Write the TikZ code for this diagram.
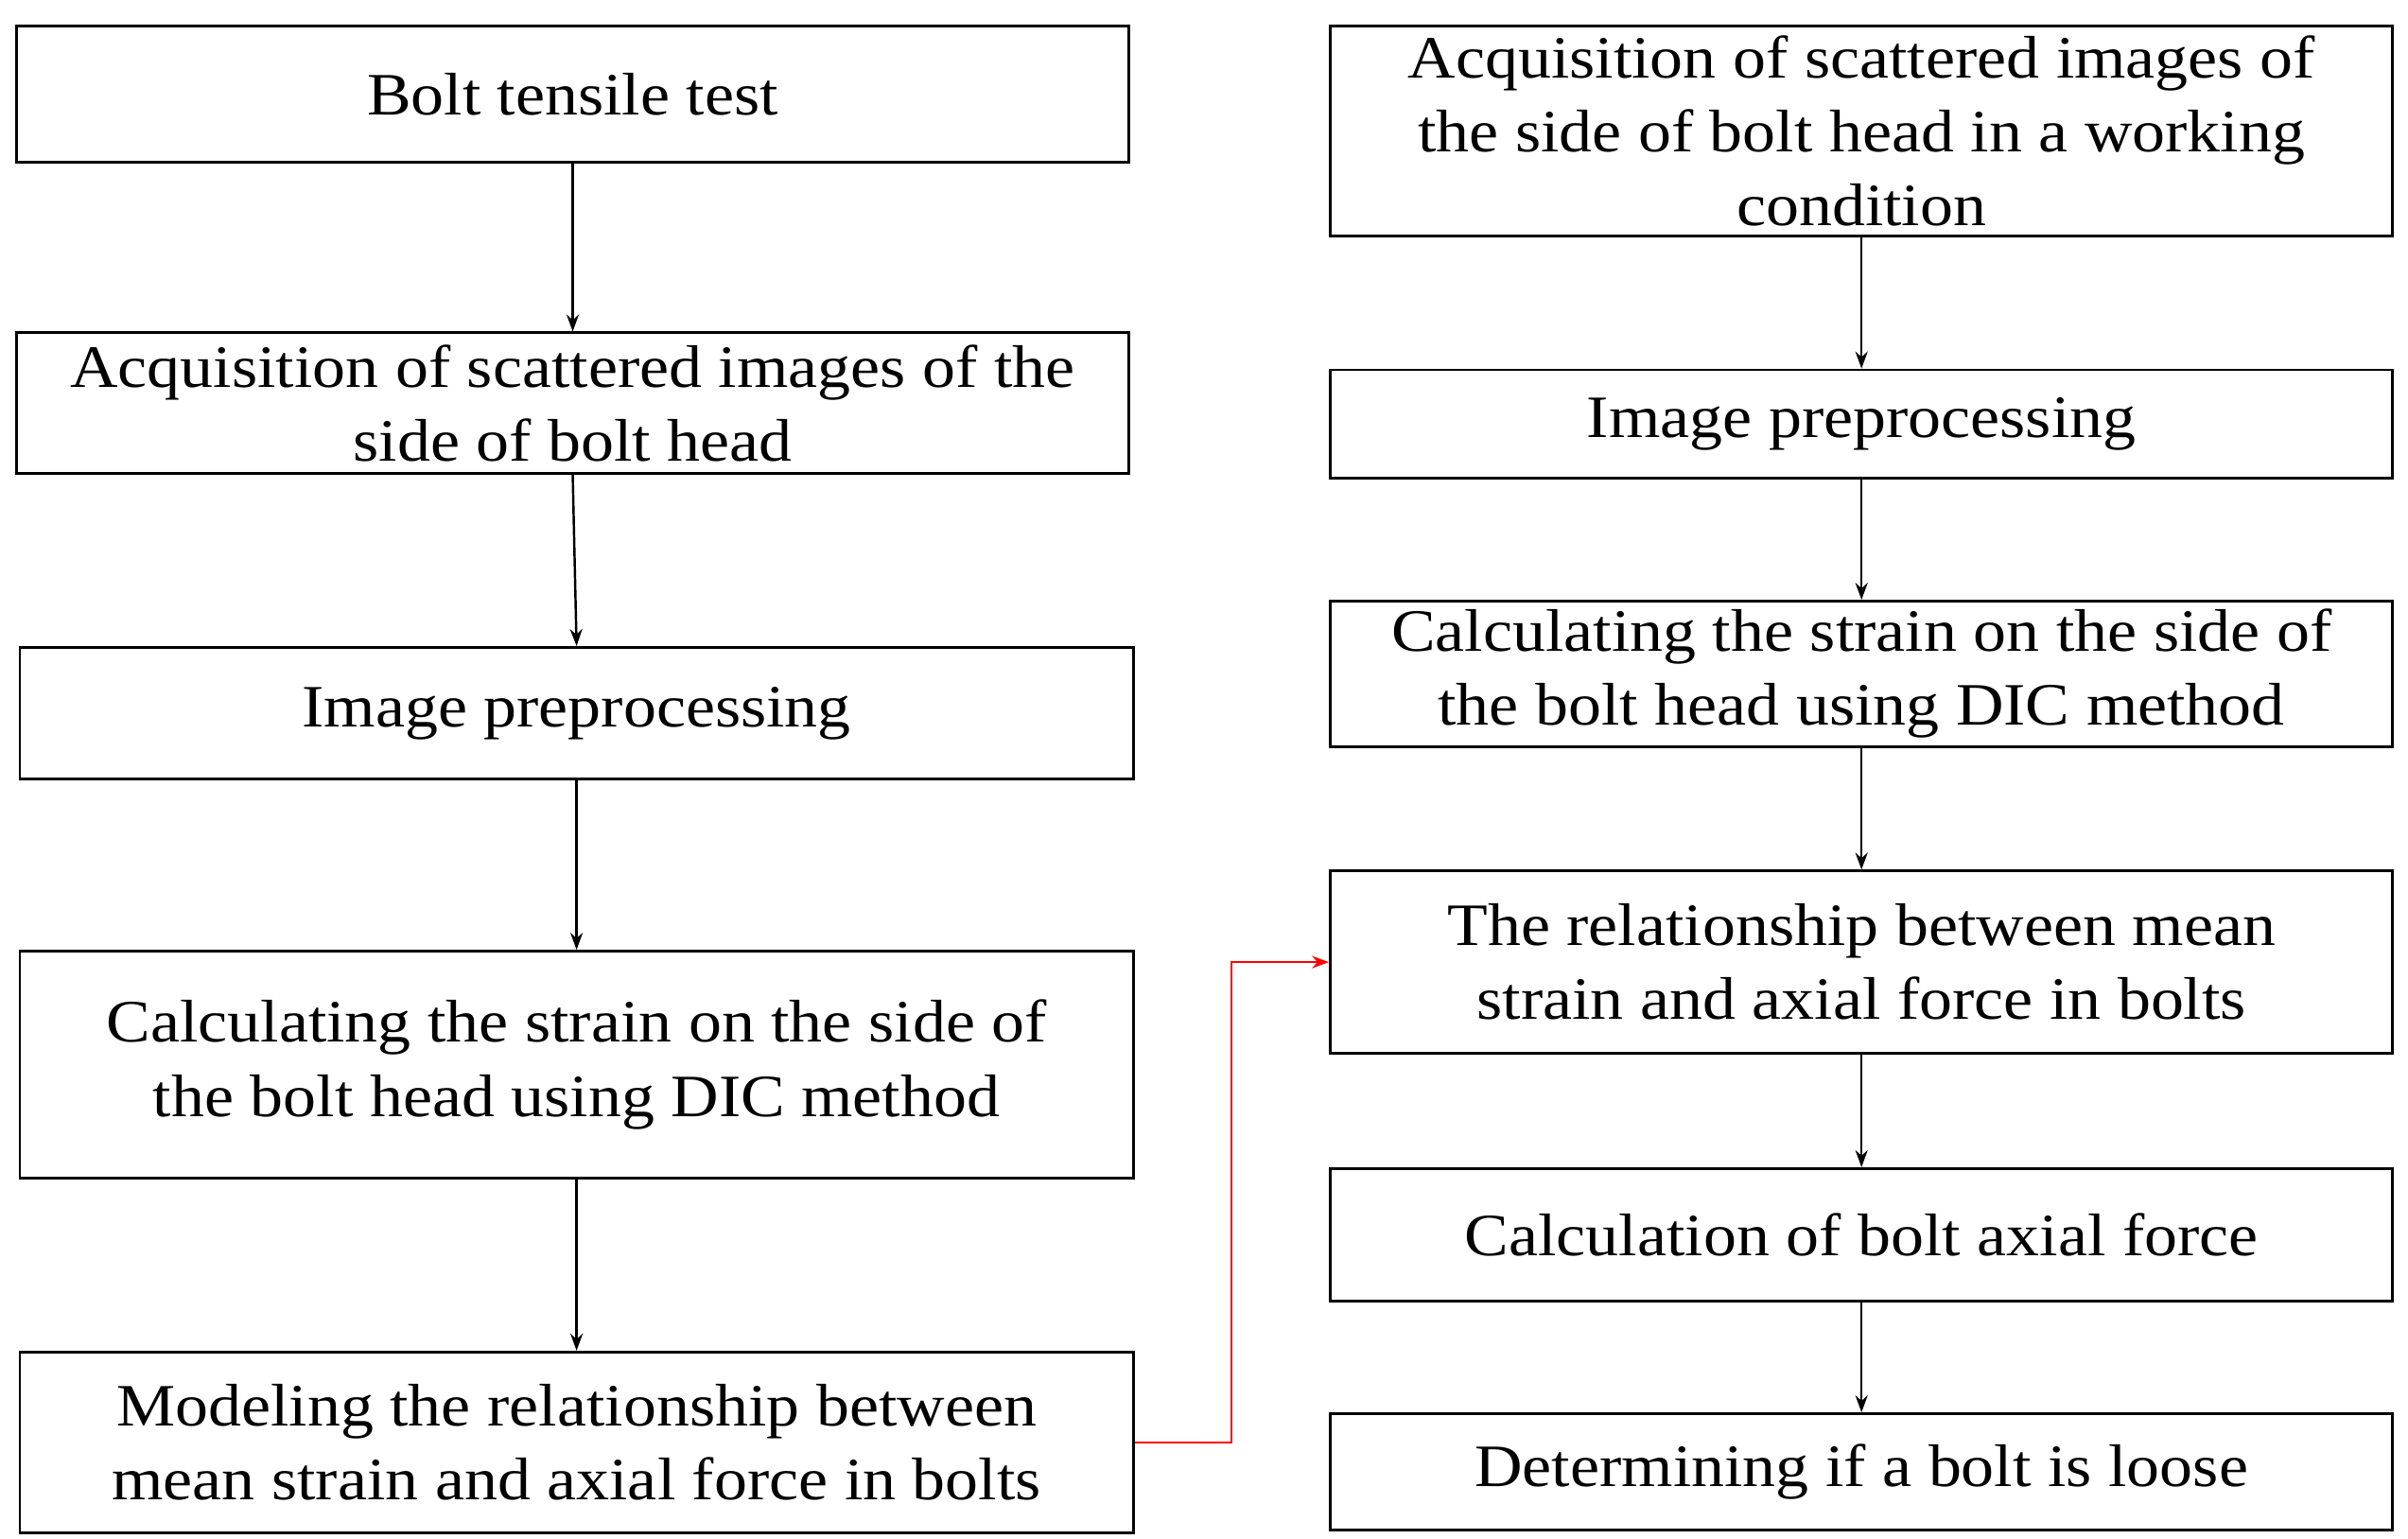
\documentclass[tikz,border=0pt]{standalone}
\usepackage{fontspec}
\setmainfont[FakeStretch=1.1]{Liberation Serif}
\usetikzlibrary{arrows.meta}
\begin{document}
\begin{tikzpicture}[x=1pt,y=-1pt,
 box/.style={draw,line width=1.8pt,align=center,inner sep=0pt,font=\fontsize{39}{48}\selectfont},
 arr/.style={-{Stealth[length=11pt,width=8pt]},line width=1.5pt}]
\useasboundingbox (0,0) rectangle (1562,998);
\newcommand\bx[6]{\node[box,minimum width=#4-#2-1.8,minimum height=#5-#3-1.8] (#1) at ({(#2+#4)/2},{(#3+#5)/2}) {#6};}
\bx{a}{10}{16}{733}{106}{Bolt tensile test}
\bx{b}{10}{215}{733}{308}{Acquisition of scattered images of the\\side of bolt head}
\bx{c}{12}{419}{736}{506}{Image preprocessing}
\bx{d}{12}{616}{736}{765}{Calculating the strain on the side of\\the bolt head using DIC method}
\bx{e}{12}{876}{736}{995}{Modeling the relationship between\\mean strain and axial force in bolts}
\bx{r1}{862}{16}{1553}{154}{Acquisition of scattered images of\\the side of bolt head in a working\\condition}
\bx{r2}{862}{239}{1553}{311}{Image preprocessing}
\bx{r3}{862}{389}{1553}{485}{Calculating the strain on the side of\\the bolt head using DIC method}
\bx{r4}{862}{564}{1553}{684}{The relationship between mean\\strain and axial force in bolts}
\bx{r5}{862}{757}{1553}{845}{Calculation of bolt axial force}
\bx{r6}{862}{916}{1553}{993}{Determining if a bolt is loose}
\draw[arr] (a.south) -- (b.north);
\draw[arr] (b.south) -- (c.north);
\draw[arr] (c.south) -- (d.north);
\draw[arr] (d.south) -- (e.north);
\draw[arr] (r1.south) -- (r2.north);
\draw[arr] (r2.south) -- (r3.north);
\draw[arr] (r3.south) -- (r4.north);
\draw[arr] (r4.south) -- (r5.north);
\draw[arr] (r5.south) -- (r6.north);
\coordinate (m) at (799,0);
\draw[arr,red,line width=1.2pt] (e.east) -- (e.east -| m) -- (r4.west -| m) -- (r4.west);
\end{tikzpicture}
\end{document}
